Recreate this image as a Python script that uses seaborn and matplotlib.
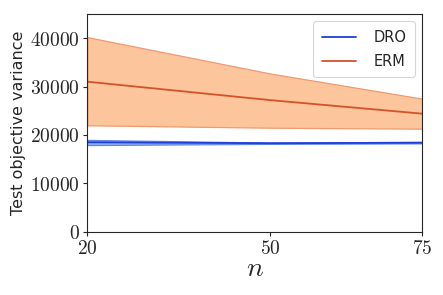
import matplotlib
matplotlib.use("Agg")
import matplotlib.pyplot as plt
import seaborn as sns
import pandas as pd

n_vals = [20, 50, 75]
dro_mean = [18500, 18300, 18400]
dro_low = [17900, 18150, 18250]
dro_high = [19000, 18450, 18600]
erm_mean = [31000, 27200, 24400]
erm_low = [22000, 21500, 21300]
erm_high = [40200, 32700, 27500]

sns.set_style("ticks")
plt.rcParams['mathtext.fontset'] = 'cm'
plt.rcParams['font.family'] = ['DejaVu Sans']

fig, ax = plt.subplots(figsize=(4.43, 2.95), dpi=100)
fig.subplots_adjust(left=0.197, right=0.953, top=0.953, bottom=0.214)

df = pd.DataFrame({
    'n': n_vals * 2,
    'val': dro_mean + erm_mean,
    'method': ['DRO'] * 3 + ['ERM'] * 3,
})
blue = '#1f3fd6'
red = '#d4522a'
ax.fill_between(n_vals, dro_low, dro_high, color='#6f95ee', alpha=0.8, edgecolor='#4a72e0', linewidth=0.8)
ax.fill_between(n_vals, erm_low, erm_high, color='#fdc59c', edgecolor='#ef9a6e', linewidth=0.9)
sns.lineplot(data=df, x='n', y='val', hue='method', palette={'DRO': blue, 'ERM': red},
             ax=ax, linewidth=1.3)

ax.set_xlim(20, 75)
ax.set_ylim(0, 45000)
ax.set_xticks(n_vals)
ax.set_xticklabels([f'${v}$' for v in n_vals], fontsize=14)
yt = [0, 10000, 20000, 30000, 40000]
ax.set_yticks(yt)
ax.set_yticklabels([f'${v}$' for v in yt], fontsize=14)
ax.set_xlabel('$n$', fontsize=20, labelpad=-3)
ax.set_ylabel('Test objective variance', fontsize=11.5, labelpad=3)
ax.tick_params(length=3, width=0.8, pad=2)
for s in ax.spines.values():
    s.set_linewidth(0.8)
leg = ax.legend(loc='upper right', fontsize=10.5, frameon=True, handlelength=2.3,
                labelspacing=0.6, borderpad=0.6, handletextpad=1.2)
leg.get_frame().set_linewidth(0.8)
fig.savefig('out.png', dpi=100)
